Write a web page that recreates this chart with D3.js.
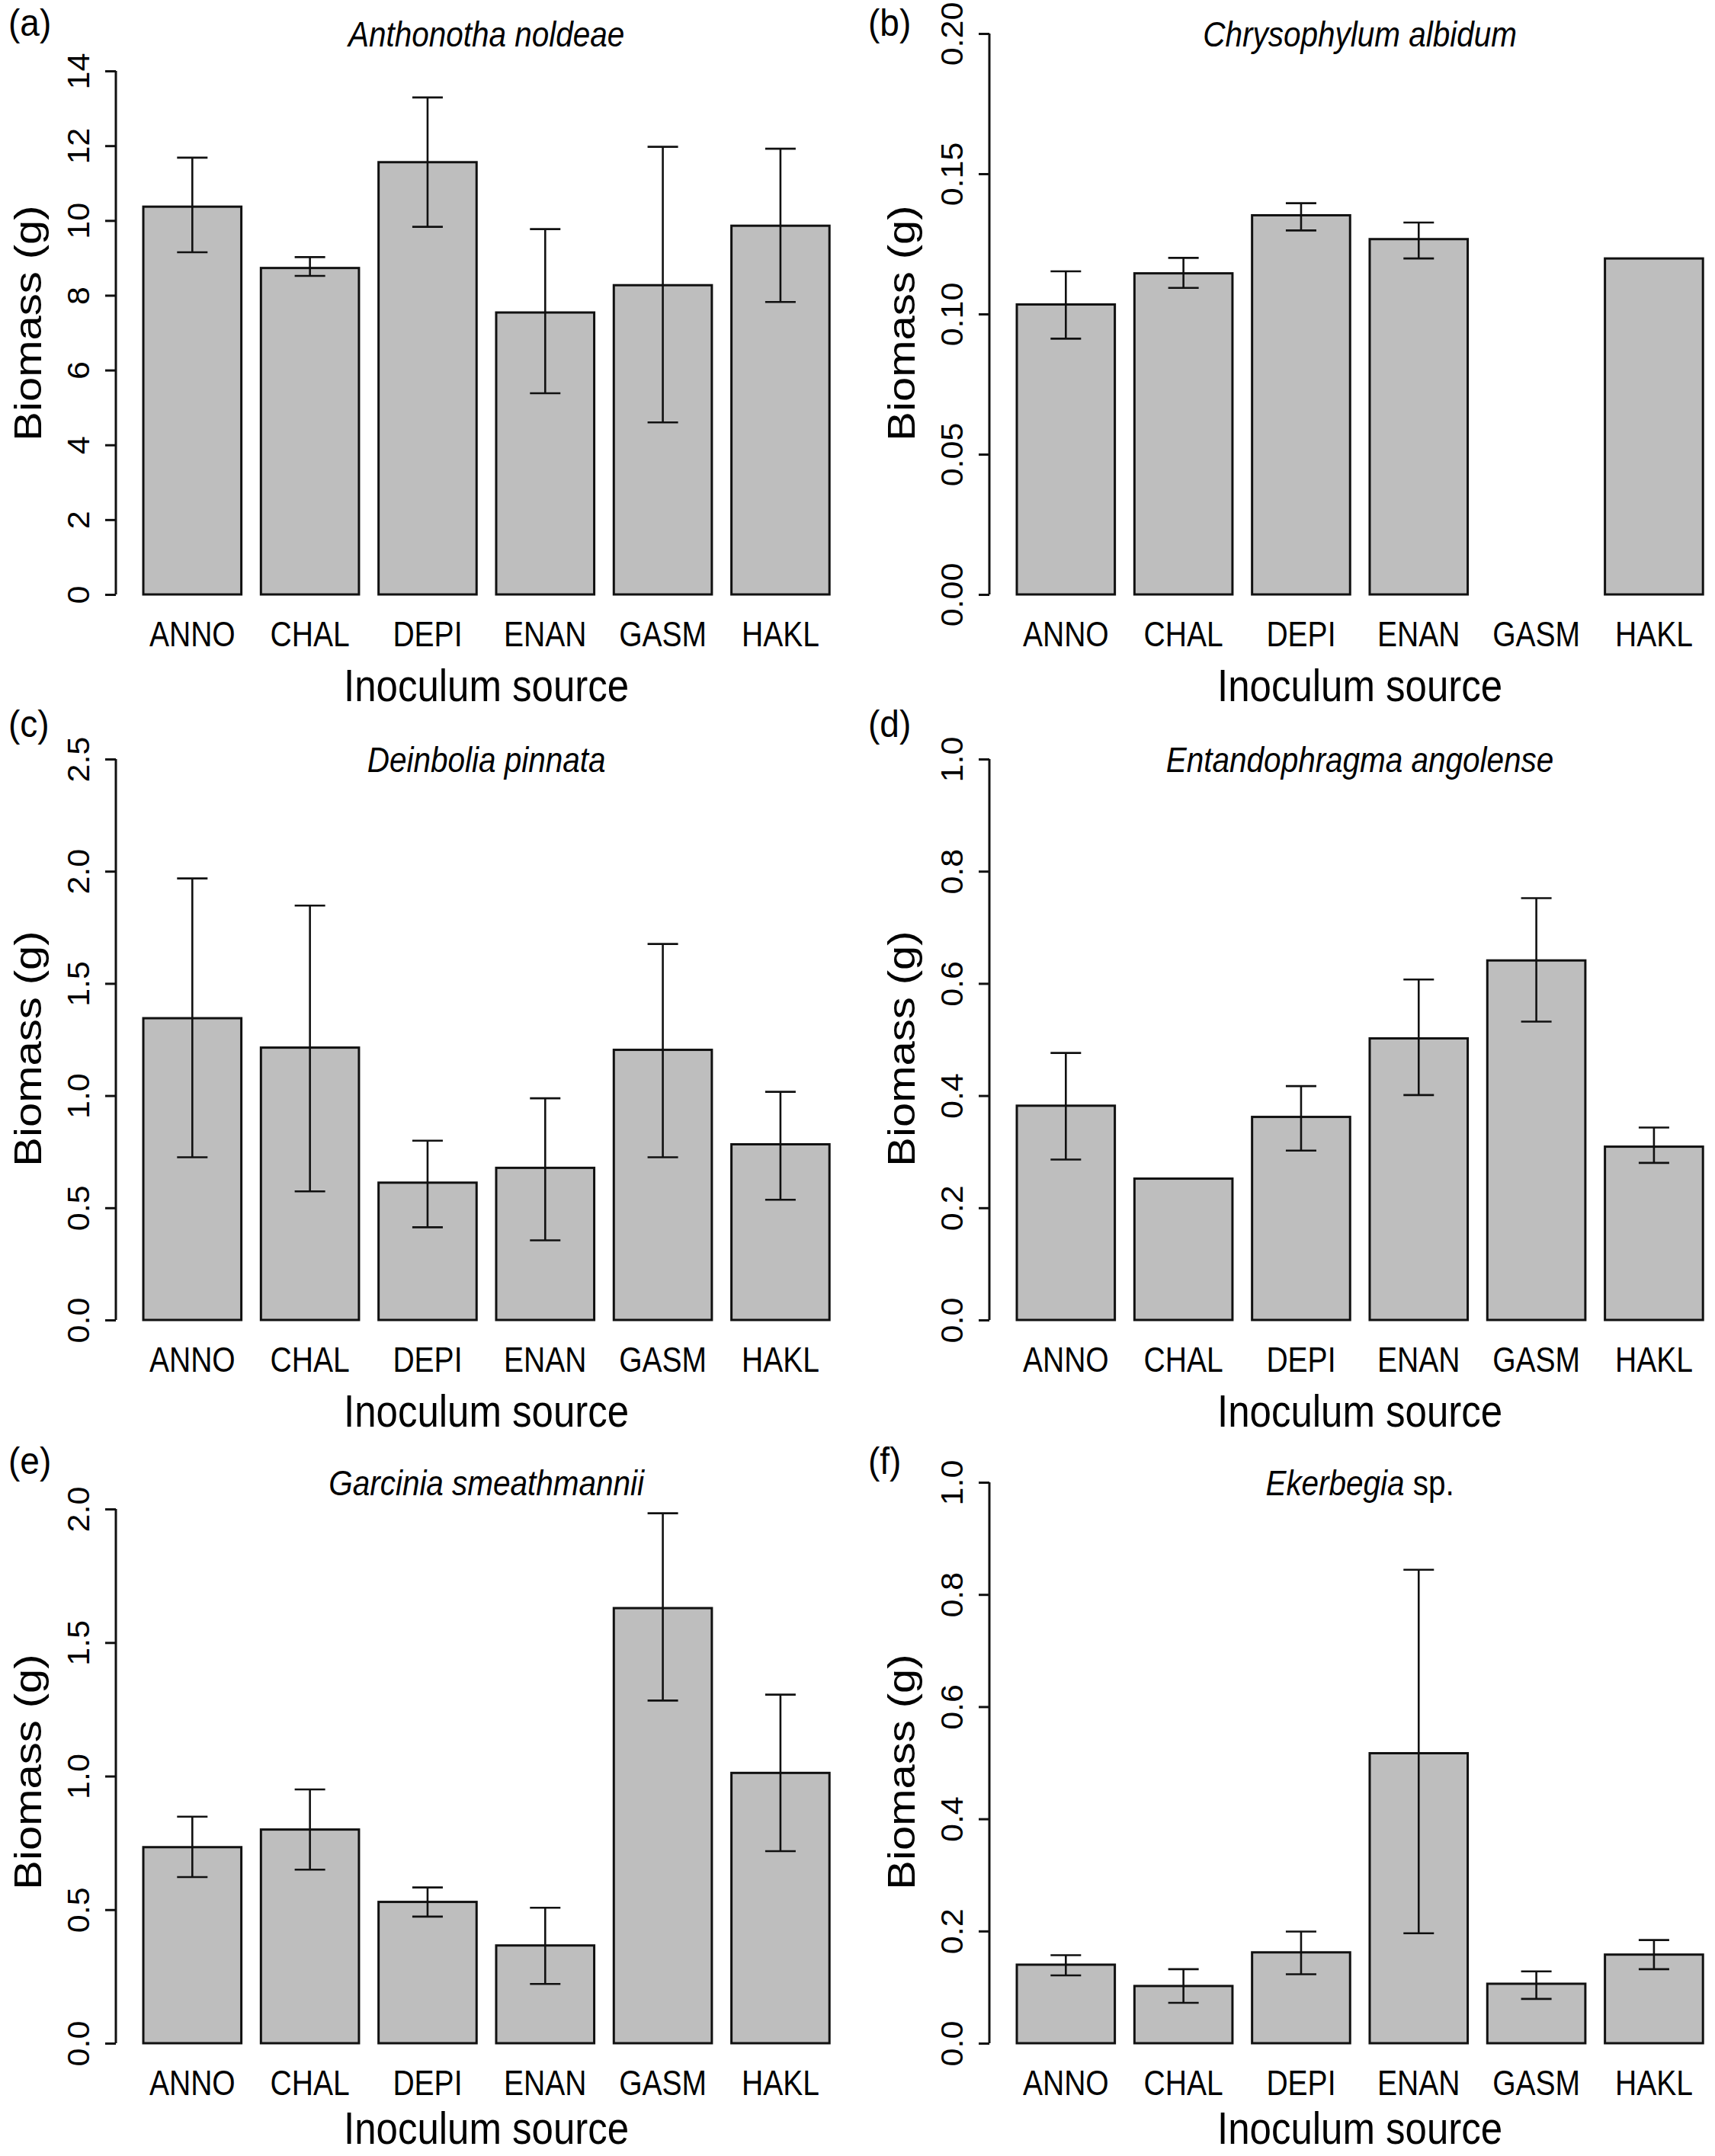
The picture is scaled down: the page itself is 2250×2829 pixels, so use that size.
<!DOCTYPE html>
<html>
<head>
<meta charset="utf-8">
<script src="https://cdn.jsdelivr.net/npm/d3@7"></script>
<style>
  body { margin: 0; background: #fff; }
  text { font-family: "Liberation Sans", Arial, sans-serif; fill: #000; }
</style>
</head>
<body>
<div id="chart"></div>
<script>
// Inoculum sources on the x axis, same for every panel
const categories = ["ANNO", "CHAL", "DEPI", "ENAN", "GASM", "HAKL"];

// (a) Anthonotha noldeae
const meanA = [10.37, 8.73, 11.56, 7.54, 8.27, 9.86];
const upperA = [11.68, 9.02, 13.29, 9.77, 11.97, 11.92];
const lowerA = [9.15, 8.52, 9.83, 5.38, 4.60, 7.82];
const ticksA = [0, 2, 4, 6, 8, 10, 12, 14];
const tickLabelsA = ["0", "2", "4", "6", "8", "10", "12", "14"];

// (b) Chrysophylum albidum (no GASM bar, no error on HAKL)
const meanB = [0.1034, 0.1145, 0.1352, 0.1267, null, 0.1198];
const upperB = [0.1152, 0.1200, 0.1395, 0.1326, null, null];
const lowerB = [0.0912, 0.1093, 0.1298, 0.1198, null, null];
const ticksB = [0, 0.05, 0.10, 0.15, 0.20];
const tickLabelsB = ["0.00", "0.05", "0.10", "0.15", "0.20"];

// (c) Deinbolia pinnata
const meanC = [1.345, 1.214, 0.612, 0.678, 1.204, 0.783];
const upperC = [1.968, 1.847, 0.799, 0.988, 1.676, 1.017];
const lowerC = [0.725, 0.573, 0.413, 0.355, 0.725, 0.536];
const ticksC = [0, 0.5, 1.0, 1.5, 2.0, 2.5];
const tickLabelsC = ["0.0", "0.5", "1.0", "1.5", "2.0", "2.5"];

// (d) Entandophragma angolense (no error on CHAL)
const meanD = [0.382, 0.252, 0.362, 0.502, 0.641, 0.309];
const upperD = [0.476, null, 0.417, 0.607, 0.752, 0.343];
const lowerD = [0.286, null, 0.302, 0.401, 0.532, 0.280];
const ticksD = [0, 0.2, 0.4, 0.6, 0.8, 1.0];
const tickLabelsD = ["0.0", "0.2", "0.4", "0.6", "0.8", "1.0"];

// (e) Garcinia smeathmannii
const meanE = [0.734, 0.800, 0.529, 0.366, 1.629, 1.012];
const upperE = [0.848, 0.950, 0.583, 0.507, 1.984, 1.305];
const lowerE = [0.622, 0.650, 0.474, 0.222, 1.283, 0.719];
const ticksE = [0, 0.5, 1.0, 1.5, 2.0];
const tickLabelsE = ["0.0", "0.5", "1.0", "1.5", "2.0"];

// (f) Ekerbegia sp.
const meanF = [0.140, 0.102, 0.162, 0.517, 0.106, 0.158];
const upperF = [0.157, 0.132, 0.199, 0.844, 0.128, 0.184];
const lowerF = [0.121, 0.072, 0.123, 0.196, 0.079, 0.132];
const ticksF = [0, 0.2, 0.4, 0.6, 0.8, 1.0];
const tickLabelsF = ["0.0", "0.2", "0.4", "0.6", "0.8", "1.0"];

const panels = [
    {tag: "(a)", genus: "Anthonotha noldeae", rest: "", mean: meanA, upper: upperA, lower: lowerA, ticks: ticksA, labels: tickLabelsA, ymax: 15},
    {tag: "(b)", genus: "Chrysophylum albidum", rest: "", mean: meanB, upper: upperB, lower: lowerB, ticks: ticksB, labels: tickLabelsB, ymax: 0.2},
    {tag: "(c)", genus: "Deinbolia pinnata", rest: "", mean: meanC, upper: upperC, lower: lowerC, ticks: ticksC, labels: tickLabelsC, ymax: 2.5},
    {tag: "(d)", genus: "Entandophragma angolense", rest: "", mean: meanD, upper: upperD, lower: lowerD, ticks: ticksD, labels: tickLabelsD, ymax: 1.0},
    {tag: "(e)", genus: "Garcinia smeathmannii", rest: "", mean: meanE, upper: upperE, lower: lowerE, ticks: ticksE, labels: tickLabelsE, ymax: 2.1},
    {tag: "(f)", genus: "Ekerbegia", rest: " sp.", mean: meanF, upper: upperF, lower: lowerF, ticks: ticksF, labels: tickLabelsF, ymax: 1.0},
];

// Layout of the 3 x 2 grid (pixels)
const W = 2250, H = 2829;
const colAxisX = [152, 1298];
const rowZeroY = [780, 1732, 2681];
const tagBaseline = [47, 967, 1934];
const tagX = [11, 1139];
const plotH = 736;      // pixel height from 0 to ymax
const unit = 128.6;     // width of one bar
const capHalf = 20;

const svg = d3.select("#chart")
    .append("svg")
    .attr("width", W)
    .attr("height", H)
    .style("background", "#fff");

panels.forEach((p, k) => {
    const col = k % 2, row = Math.floor(k / 2);
    const ax = colAxisX[col];
    const y0 = rowZeroY[row];
    const plotW = 7.56 * unit;
    const cx = ax + plotW / 2;

    const g = svg.append("g");

    const x = d3.scaleBand()
        .domain(categories)
        .range([ax + 0.18 * unit, ax + 7.38 * unit])
        .paddingInner(1 / 6)
        .paddingOuter(1 / 12);

    const y = d3.scaleLinear()
        .domain([0, p.ymax])
        .range([y0, y0 - plotH]);

    const rows = categories.map((c, i) => ({
        cat: c, mean: p.mean[i], upper: p.upper[i], lower: p.lower[i]
    }));

    // bars
    g.append("g")
        .selectAll("rect")
        .data(rows.filter((d) => d.mean !== null))
        .join("rect")
        .attr("x", (d) => x(d.cat))
        .attr("y", (d) => y(d.mean))
        .attr("width", x.bandwidth())
        .attr("height", (d) => y(0) - y(d.mean))
        .attr("fill", "#bebebe")
        .attr("stroke", "#111")
        .attr("stroke-width", 3);

    // error bars
    const eb = g.append("g")
        .selectAll("g")
        .data(rows.filter((d) => d.upper !== null))
        .join("g")
        .attr("stroke", "#111")
        .attr("stroke-width", 2.6);
    eb.append("line")
        .attr("x1", (d) => x(d.cat) + x.bandwidth() / 2)
        .attr("x2", (d) => x(d.cat) + x.bandwidth() / 2)
        .attr("y1", (d) => y(d.upper))
        .attr("y2", (d) => y(d.lower));
    eb.append("line")
        .attr("x1", (d) => x(d.cat) + x.bandwidth() / 2 - capHalf)
        .attr("x2", (d) => x(d.cat) + x.bandwidth() / 2 + capHalf)
        .attr("y1", (d) => y(d.upper))
        .attr("y2", (d) => y(d.upper));
    eb.append("line")
        .attr("x1", (d) => x(d.cat) + x.bandwidth() / 2 - capHalf)
        .attr("x2", (d) => x(d.cat) + x.bandwidth() / 2 + capHalf)
        .attr("y1", (d) => y(d.lower))
        .attr("y2", (d) => y(d.lower));

    // y axis, R style: line only between first and last tick, rotated labels
    const yAxis = g.append("g")
        .attr("transform", `translate(${ax},0)`)
        .call(d3.axisLeft(y)
            .tickValues(p.ticks)
            .tickFormat((d, i) => p.labels[i])
            .tickSize(14)
            .tickSizeOuter(0));
    yAxis.select(".domain").remove();
    yAxis.selectAll(".tick line").attr("stroke", "#111").attr("stroke-width", 3);
    yAxis.selectAll(".tick text")
        .attr("x", null)
        .attr("dy", null)
        .attr("text-anchor", "middle")
        .style("font-size", "43px")
        .attr("transform", "translate(-35,0) scale(0.93,1) rotate(-90)");
    yAxis.append("line")
        .attr("x1", 0).attr("x2", 0)
        .attr("y1", y(p.ticks[0]))
        .attr("y2", y(p.ticks[p.ticks.length - 1]))
        .attr("stroke", "#111")
        .attr("stroke-width", 3);

    // category names
    g.append("g")
        .selectAll("text")
        .data(categories)
        .join("text")
        .attr("text-anchor", "middle")
        .style("font-size", "47px")
        .attr("transform", (d) => `translate(${x(d) + x.bandwidth() / 2},${y0 + 68}) scale(0.83,1)`)
        .text((d) => d);

    // axis titles (keep the bottom row inside the page)
    const xTitleY = Math.min(y0 + 140, H - 16);
    g.append("text")
        .attr("text-anchor", "middle")
        .style("font-size", "60px")
        .attr("transform", `translate(${cx},${xTitleY}) scale(0.85,1)`)
        .text("Inoculum source");

    g.append("text")
        .attr("text-anchor", "middle")
        .style("font-size", "58px")
        .attr("transform", `translate(${ax - 98},${y0 - plotH / 2 + 12}) scale(0.85,1) rotate(-90)`)
        .text("Biomass (g)");

    // species title
    const t = g.append("text")
        .attr("text-anchor", "middle")
        .style("font-size", "46px")
        .attr("transform", `translate(${cx},${y0 - plotH + 17}) scale(0.88,1)`);
    t.append("tspan").style("font-style", "italic").text(p.genus);
    if (p.rest) t.append("tspan").text(p.rest);

    // panel tag
    g.append("text")
        .style("font-size", "50px")
        .attr("transform", `translate(${tagX[col]},${tagBaseline[row]}) scale(0.92,1)`)
        .text(p.tag);
});
</script>
</body>
</html>
